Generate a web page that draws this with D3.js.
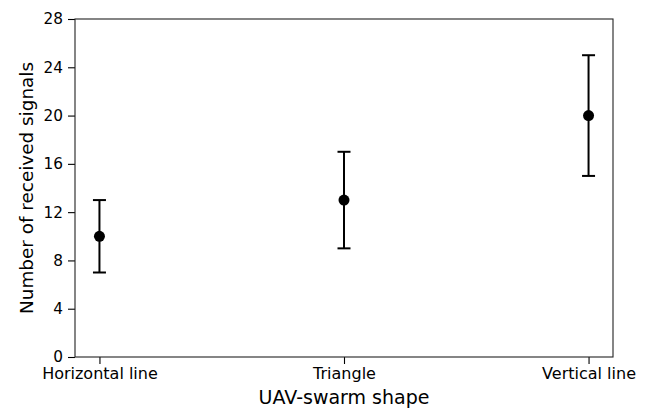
<!DOCTYPE html>
<html>
<head>
<meta charset="utf-8">
<script src="https://cdn.jsdelivr.net/npm/d3@7"></script>
<style>
html,body{margin:0;padding:0;background:#fff;}
text{font-family:"DejaVu Sans",sans-serif;fill:#000;}
</style>
</head>
<body>
<svg id="chart" width="648" height="408"></svg>
<script>
const categories = ["Horizontal line", "Triangle", "Vertical line"];
const means = [10, 13, 20];
const lower = [7, 9, 15];
const upper = [13, 17, 25];
const yTicks = [0, 4, 8, 12, 16, 20, 24, 28];

const svg = d3.select("#chart");
const L = 75, R = 613, T = 19, B = 357;

const x = d3.scaleLinear().domain([-0.1, categories.length - 1 + 0.1]).range([L, R]);
const y = d3.scaleLinear().domain([0, 28]).range([B, T]);

// y axis
const yAxis = d3.axisLeft(y).tickValues(yTicks).tickSize(7).tickPadding(5);
const gy = svg.append("g").attr("transform", `translate(${L},0)`).call(yAxis);
gy.select(".domain").remove();
gy.selectAll("text").style("font-size", "15.3px").attr("font-family", "DejaVu Sans").attr("fill", "#000");
gy.selectAll("line").attr("stroke", "#000").attr("stroke-width", 1.1);

// x axis
const xAxis = d3.axisBottom(x).tickValues(categories.map((d, i) => i))
  .tickFormat(i => categories[i]).tickSize(7).tickPadding(4);
const gx = svg.append("g").attr("transform", `translate(0,${B})`).call(xAxis);
gx.select(".domain").remove();
gx.selectAll("text").style("font-size", "16px").attr("font-family", "DejaVu Sans").attr("fill", "#000")
  .attr("y", 22).attr("dy", null);
gx.selectAll("line").attr("stroke", "#000").attr("stroke-width", 1.1);

// frame
svg.append("rect").attr("x", L).attr("y", T).attr("width", R - L).attr("height", B - T)
  .attr("fill", "none").attr("stroke", "#222").attr("stroke-width", 1.1);

// error bars
const g = svg.append("g");
categories.forEach((c, i) => {
  const cx = x(i);
  g.append("line").attr("x1", cx).attr("x2", cx).attr("y1", y(lower[i])).attr("y2", y(upper[i]))
    .attr("stroke", "#000").attr("stroke-width", 2);
  [lower[i], upper[i]].forEach(v => {
    g.append("line").attr("x1", cx - 6.5).attr("x2", cx + 6.5).attr("y1", y(v)).attr("y2", y(v))
      .attr("stroke", "#000").attr("stroke-width", 2);
  });
  g.append("circle").attr("cx", cx).attr("cy", y(means[i])).attr("r", 5.5).attr("fill", "#000");
});

// labels
svg.append("text").attr("x", (L + R) / 2).attr("y", 404).attr("text-anchor", "middle")
  .style("font-size", "19px").text("UAV-swarm shape");
svg.append("text").attr("transform", `translate(33,${(T + B) / 2}) rotate(-90)`)
  .attr("text-anchor", "middle").style("font-size", "18.4px").text("Number of received signals");
</script>
</body>
</html>
